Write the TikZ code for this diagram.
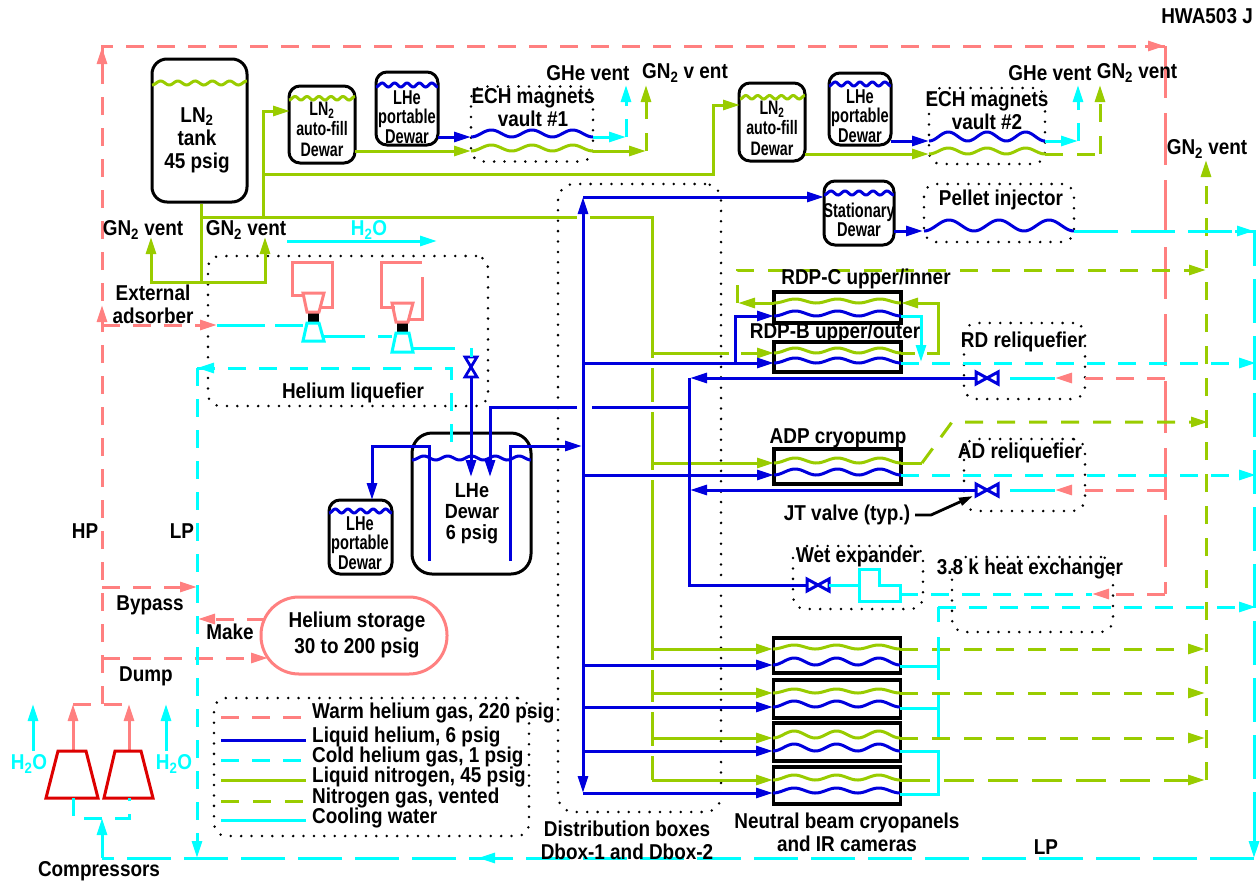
\documentclass[tikz,border=0pt]{standalone}
\usepackage{fontspec}
\setmainfont{Liberation Sans Bold}[FakeStretch=0.88]
\newfontfamily\narrowface{Liberation Sans Bold}[FakeStretch=0.73]
\usetikzlibrary{arrows.meta}
\definecolor{cwarm}{HTML}{FF8080}
\definecolor{clhe}{HTML}{0000DD}
\definecolor{ccold}{HTML}{00FFFF}
\definecolor{cltn}{HTML}{99CC00}
\definecolor{cred}{HTML}{DD0000}
\newcommand{\cdn}[3]{\coordinate (#1) at (#2,#3);}
\newcommand{\wv}[6]{\draw[#1,line width=3pt] plot[domain=0:1,samples=80,smooth] ({#2+\x*(#3-#2)},{#4-#5*(1-cos(360*#6*\x))/2});}
\newcommand{\hval}[2]{\draw[clhe,line width=3pt,line join=miter] (#1-11,#2-6)--(#1+11,#2+6)--(#1+11,#2-6)--(#1-11,#2+6)--cycle;}
\newcommand{\vval}[2]{\draw[clhe,line width=2.8pt,line join=miter] (#1-6,#2-10)--(#1+6,#2+10)--(#1-6,#2+10)--(#1+6,#2-10)--cycle;}
\tikzset{
  pipe/.style={line width=3pt,line join=miter},
  arw/.style={-{Triangle[length=17pt,width=10pt]}},
  warmx/.style={pipe,draw=cwarm,dash pattern=on 18pt off 13pt},
  warmlong/.style={pipe,draw=cwarm,dash pattern=on 52pt off 15pt},
  warmsolid/.style={pipe,draw=cwarm},
  lhe/.style={pipe,draw=clhe},
  cold/.style={pipe,draw=ccold,dash pattern=on 18pt off 13pt},
  coldlong/.style={pipe,draw=ccold,dash pattern=on 44pt off 13pt},
  water/.style={pipe,draw=ccold},
  ltn/.style={pipe,draw=cltn},
  ngas/.style={pipe,draw=cltn,dash pattern=on 18pt off 14pt},
  ngaslong/.style={pipe,draw=cltn,dash pattern=on 30pt off 14pt},
  vessel/.style={draw=black,line width=3pt,inner sep=0pt,rectangle},
  panel/.style={draw=black,line width=3.2pt,inner sep=0pt,rectangle},
  dotbox/.style={draw=black,line width=2.8pt,line cap=round,dash pattern=on 0pt off 10.4pt,rounded corners=12pt,inner sep=0pt,rectangle},
  lbl/.style={inner sep=0pt,align=center,font=\fontsize{21.5}{23}\selectfont},
  nar/.style={inner sep=0pt,align=center,font=\narrowface\fontsize{20}{19.5}\selectfont},
  narfill/.style={inner sep=0pt,align=center,font=\narrowface\fontsize{19.5}{20.5}\selectfont},
  leg/.style={inner sep=0pt,anchor=west,font=\fontsize{21.5}{23}\selectfont},
}
\newcommand{\sbt}{\textsubscript{2}}
\begin{document}
\begin{tikzpicture}[x=1pt,y=-1pt]
\useasboundingbox (0,0) rectangle (1260,884);
% ---------- vessels
\node[vessel,rounded corners=15pt,minimum width=95pt,minimum height=143pt] (tank) at (199.5,130.5) {};
\node[vessel,rounded corners=11pt,minimum width=66pt,minimum height=77pt] (fillA) at (322,124.5) {};
\node[vessel,rounded corners=11pt,minimum width=62pt,minimum height=73pt] (portA) at (407,108.5) {};
\node[vessel,rounded corners=11pt,minimum width=66pt,minimum height=78pt] (fillB) at (772,122) {};
\node[vessel,rounded corners=11pt,minimum width=62pt,minimum height=72pt] (portB) at (860,109) {};
\node[vessel,rounded corners=11pt,minimum width=70pt,minimum height=64pt] (stat) at (859,213) {};
\node[vessel,rounded corners=20pt,minimum width=119pt,minimum height=141pt] (lhed) at (471.5,503.5) {};
\node[vessel,rounded corners=11pt,minimum width=63pt,minimum height=74pt] (portC) at (360.5,537) {};
\node[draw=cwarm,line width=3pt,rounded corners=38pt,rectangle,inner sep=0pt,minimum width=186pt,minimum height=77pt] (store) at (354,635.5) {};
% ---------- panels
\node[panel,minimum width=127pt,minimum height=31pt] (rdpc) at (837.5,307.5) {};
\node[panel,minimum width=127pt,minimum height=30pt] (rdpb) at (837.5,357) {};
\node[panel,minimum width=127pt,minimum height=35pt] (adp) at (837.5,466.5) {};
\node[panel,minimum width=127pt,minimum height=35pt] (nba) at (837,655.5) {};
\node[panel,minimum width=127pt,minimum height=38pt] (nbb) at (837,699) {};
\node[panel,minimum width=127pt,minimum height=38pt] (nbc) at (837,742) {};
\node[panel,minimum width=127pt,minimum height=37pt] (nbd) at (837,785.5) {};
% ---------- dotted enclosures
\node[dotbox,minimum width=122pt,minimum height=75pt] (vaultA) at (532,124) {};
\node[dotbox,minimum width=116pt,minimum height=76pt] (vaultB) at (987,126) {};
\node[dotbox,minimum width=150pt,minimum height=58pt] (pellet) at (999,213) {};
\node[dotbox,rounded corners=16pt,minimum width=163pt,minimum height=628pt] (dbox) at (639.5,498) {};
\node[dotbox,minimum width=280pt,minimum height=150pt] (liq) at (348,331) {};
\node[dotbox,minimum width=121pt,minimum height=76pt] (rdrel) at (1024.5,361) {};
\node[dotbox,minimum width=121pt,minimum height=72pt] (adrel) at (1024.5,475) {};
\node[dotbox,minimum width=130pt,minimum height=63pt] (wet) at (858,577.5) {};
\node[dotbox,minimum width=161pt,minimum height=75pt] (hx) at (1032.5,594.5) {};
\node[dotbox,minimum width=315pt,minimum height=138pt] (legend) at (371.5,767) {};
% ---------- level waves
\wv{cltn}{152}{247}{85}{4}{5.5}
\wv{cltn}{289}{355}{100}{3.5}{5.5}
\wv{clhe}{376}{438}{87}{4}{5}
\wv{cltn}{740}{805}{99}{3.5}{5.5}
\wv{clhe}{829}{891}{86}{4}{5}
\wv{clhe}{824}{894}{195}{4}{5}
\wv{clhe}{412}{531}{460}{4}{5}
\wv{clhe}{329}{392}{513}{4}{5}
% ---------- process waves
\wv{clhe}{471}{593}{137}{7}{3}
\wv{cltn}{471}{593}{151}{6}{3}
\wv{clhe}{929}{1045}{141}{9}{3}
\wv{cltn}{929}{1045}{154}{6}{3}
\wv{clhe}{924}{1074}{231}{11}{3}
\wv{cltn}{774}{901}{303}{4}{3}
\wv{clhe}{774}{901}{316}{5}{3}
\wv{cltn}{774}{901}{353}{5}{3}
\wv{clhe}{774}{901}{363}{5}{3}
\wv{cltn}{774}{901}{463}{5}{3}
\wv{clhe}{774}{901}{475}{6}{3}
\wv{cltn}{773}{900}{649}{4}{3}
\wv{clhe}{773}{900}{665}{7}{3}
\wv{cltn}{773}{900}{693}{4}{3}
\wv{clhe}{773}{900}{707}{6}{3}
\wv{cltn}{773}{900}{738}{7}{3}
\wv{clhe}{773}{900}{751}{7}{3}
\wv{cltn}{773}{900}{780}{5}{3}
\wv{clhe}{773}{900}{793}{5}{3}
% ---------- coordinates
\cdn{hpt}{102}{46}\cdn{hptr}{1165}{46}\cdn{hptm}{102}{305}\cdn{ads}{102}{325}\cdn{adsb}{217}{325}
\cdn{hpar}{102}{47}\cdn{topar}{1165}{46}\cdn{rdp}{1165}{378}\cdn{adp2}{1165}{490}\cdn{hxp}{1165}{594}
\cdn{rdt}{1055}{378}\cdn{adt}{1055}{490}\cdn{hxt}{1092}{594}
\cdn{byA}{102}{587}\cdn{byB}{197}{587}\cdn{dmA}{102}{658}\cdn{dmB}{268}{658}\cdn{mkA}{265}{619}\cdn{mkB}{198}{619}
\cdn{cA}{73}{704}\cdn{cB}{129}{704}\cdn{cAb}{73}{751}\cdn{cBb}{129}{751}\cdn{hpc}{73}{704}\cdn{hpd}{129}{704}\cdn{hpe}{102}{704}
% ---------- warm helium
\draw[warmx] (hpe)--(hpt)--(hptr);
\draw[warmx] (hpc)--(hpd);
\draw[warmsolid,arw] (ads)--(hptm);
\draw[warmsolid,arw] (102,66)--(hpar);
\draw[warmsolid,arw] (1145,46)--(topar);
\draw[warmx,arw] (ads)--(adsb);
\draw[warmx,arw] (byA)--(byB);
\draw[warmx,arw] (dmA)--(dmB);
\draw[warmx,arw] (mkA)--(mkB);
\draw[warmsolid,arw] (cAb)--(cA);
\draw[warmsolid,arw] (cBb)--(cB);
\draw[warmlong] (topar)--(hxp);
\draw[warmx,arw] (rdp)--(rdt);
\draw[warmx,arw] (adp2)--(adt);
\draw[warmx,arw] (hxp)--(hxt);
% ---------- compressors
\draw[cred,line width=3pt] (58,751)--(86,751)--(98,798)--(46,798)--cycle;
\draw[cred,line width=3pt] (115,751)--(141,751)--(153,798)--(104,798)--cycle;
\draw[cold] (73,798)--(73,818)--(129,818)--(129,798);
\draw[water,arw] (33,751)--(33,704);
\draw[water,arw] (166,751)--(166,704);
\draw[coldlong] (1254,858)--(102,858);
\draw[water,arw] (102,858)--(102,818);
\draw[water,arw] (500,858)--(478,858);
% ---------- nitrogen
\cdn{tk1}{201}{282}\cdn{tkl}{151}{282}\cdn{tkr}{265}{282}\cdn{tkvl}{151}{237}\cdn{tkvr}{265}{237}
\cdn{nj}{201}{217}\cdn{nja}{263}{217}\cdn{njb}{263}{174}\cdn{nf}{263}{111}\cdn{nfb}{290}{111}\cdn{nc}{713}{174}\cdn{nd}{713}{105}\cdn{ne}{740}{105}
\draw[ltn] (tank.south -| tk1)--(tk1);
\draw[ltn,arw] (tk1)--(tkl)--(tkvl);
\draw[ltn,arw] (tk1)--(tkr)--(tkvr);
\draw[ltn,arw] (nja)--(nf)--(nfb);
\draw[ltn,arw] (njb)--(nc)--(nd)--(ne);
\draw[ltn] (nj)--(577,217);
\draw[ltn] (590,217)--(652,217)--(652,358) (652,368)--(652,402) (652,412)--(652,470) (652,480)--(652,660) (652,670)--(652,702) (652,712)--(652,746) (652,756)--(652,780);
\draw[ltn,arw] (355,151)--(471,151);
\draw[ltn,arw] (593,151)--(646,151);
\draw[ngas,arw] (646,151)--(646,85);
\draw[ltn,arw] (805,154)--(929,154);
\draw[ngas] (1045,154)--(1100,154);
\draw[ngas,arw] (1100,154)--(1100,85);
\draw[ltn] (652,353)--(729,353);
\draw[ltn,arw] (741,353)--(774,353);
\draw[ltn,arw] (652,463)--(774,463);
\draw[ltn,arw] (652,649)--(773,649);
\draw[ltn,arw] (652,693)--(773,693);
\draw[ltn,arw] (652,738)--(773,738);
\draw[ltn,arw] (652,780)--(773,780);
\draw[ltn] (901,353)--(915,353);
\draw[ltn,arw] (927,353)--(938,353)--(938,303)--(901,303);
\draw[ltn,arw] (774,303)--(738,303);
\draw[ngas,arw] (737,303)--(737,270)--(1206,270);
\draw[ltn] (901,463)--(922,463);
\draw[ngas,arw] (922,463)--(952,422)--(1208,422);
\draw[ngas] (1206,780)--(1206,300);
\draw[ngas,arw] (1206,300)--(1206,160);
\draw[ngas,arw] (900,649)--(1205,649);
\draw[ngas,arw] (900,693)--(1205,693);
\draw[ngas,arw] (900,738)--(1205,738);
\draw[ngaslong,arw] (900,780)--(1205,780);
% ---------- liquid helium
\draw[lhe,arw] (438,137)--(471,137);
\draw[lhe,arw] (891,141)--(929,141);
\draw[lhe,arw] (894,231)--(923,231);
\draw[lhe,arw] (583,197)--(824,197);
\draw[lhe,{Triangle[length=17pt,width=10pt]}-{Triangle[length=17pt,width=10pt]}] (583,197)--(583,793);
\draw[lhe,arw] (583,363)--(774,363);
\draw[lhe,arw] (735,363)--(735,316)--(774,316);
\draw[lhe,arw] (583,475)--(774,475);
\draw[lhe,arw] (583,665)--(773,665);
\draw[lhe,arw] (583,707)--(773,707);
\draw[lhe,arw] (583,751)--(773,751);
\draw[lhe,arw] (583,793)--(773,793);
\draw[lhe,arw] (976,378)--(690,378);
\draw[lhe,arw] (976,490)--(690,490);
\draw[lhe] (689,378)--(689,585)--(807,585);
\draw[lhe,arw] (471,377)--(471,477);
\draw[lhe] (592,407)--(689,407);
\draw[lhe,arw] (577,407)--(490,407)--(490,477);
\draw[lhe,arw] (429,561)--(429,446)--(372,446)--(372,500);
\draw[lhe,arw] (510,561)--(510,446)--(582,446);
\hval{987}{378}\hval{987}{490}\hval{818}{585}\vval{471}{367}
% ---------- cold helium
\draw[cold] (197,368)--(451,368)--(451,447);
\draw[cold] (197,368)--(197,858);
\draw[water,arw] (215,368)--(197,368);
\draw[water,arw] (197,835)--(197,858);
\draw[water,arw] (593,137)--(626,137);
\draw[cold,arw] (626,137)--(626,85);
\draw[water,arw] (1045,141)--(1078,141);
\draw[cold,arw] (1078,141)--(1078,85);
\draw[coldlong] (1074,231)--(1254,231)--(1254,840);
\draw[water,arw] (1235,231)--(1254,231);
\draw[water,arw] (1254,835)--(1254,858);
\draw[water,arw] (901,316)--(921,316)--(921,362);
\draw[cold,arw] (901,363)--(1256,363);
\draw[cold,arw] (901,475)--(1256,475);
\draw[water] (1010,378)--(1055,378);
\draw[water] (1010,490)--(1055,490);
\draw[water] (829,585)--(859,585);
\draw[water] (859,585)--(859,569)--(879,569)--(879,585)--(900,585)--(900,601)--(859,601)--cycle;
\draw[cold] (900,594)--(1092,594);
\draw[cold,arw] (938,607)--(1256,607);
\draw[water] (938,607)--(938,622) (938,637)--(938,680) (938,695)--(938,737);
\draw[water] (900,666)--(938,666);
\draw[water] (900,708)--(938,708);
\draw[water] (900,751)--(938,751)--(938,794)--(900,794);
% ---------- liquefier turbines
\draw[water] (217,325)--(265,325) (275,325)--(303,325);
\draw[fill=black,draw=black] (308,312) rectangle (318,323);
\draw[fill=black,draw=black] (397,322) rectangle (407,333);
\draw[water] (307,323)--(319,323)--(324,341)--(303,341)--cycle;
\draw[water] (396,333)--(409,333)--(413,352)--(392,352)--cycle;
\draw[warmsolid] (303,293)--(324,293)--(319,312)--(307,312)--cycle;
\draw[warmsolid] (392,303)--(413,303)--(408,322)--(396,322)--cycle;
\draw[warmsolid] (303,295)--(292,295)--(292,262)--(332,262)--(332,307)--(320,307);
\draw[warmsolid] (395,307)--(381,307)--(381,262)--(422,262);
\draw[warmsolid] (422,277)--(422,319)--(409,319);
\draw[water] (322,336)--(365,336) (378,336)--(392,336);
\draw[water] (413,348)--(455,348);
\draw[water] (471,348)--(471,357);
\draw[water,arw] (287,241)--(437,241);
% ---------- legend lines
\draw[warmx] (221,717)--(306,717);
\draw[lhe] (221,740)--(306,740);
\draw[cold] (221,760)--(306,760);
\draw[ltn] (221,780)--(306,780);
\draw[ngas] (221,801)--(306,801);
\draw[water] (221,820)--(306,820);
% ---------- JT pointer
\draw[black,line width=2.8pt,-{Triangle[length=14pt,width=8pt]}] (915,515)--(931,515)--(973,496);
% ---------- labels
\node[lbl] (ltank) at (197,140) {LN\sbt\\tank\\45 psig};
\node[narfill] (lfillA) at (322,129) {LN\sbt\\auto-fill\\Dewar};
\node[nar] (lportA) at (407,117) {LHe\\portable\\Dewar};
\node[narfill] (lfillB) at (772,128) {LN\sbt\\auto-fill\\Dewar};
\node[nar] (lportB) at (860,116) {LHe\\portable\\Dewar};
\node[nar] (lstat) at (859,220) {Stationary\\Dewar};
\node[nar] (lportC) at (360,543) {LHe\\portable\\Dewar};
\node[lbl,font=\fontsize{20.5}{21}\selectfont] (llhe) at (472,514) {LHe\\Dewar\\6 psig};
\node[lbl] (lva) at (533,108) {ECH magnets\\vault \#1};
\node[lbl] (lvb) at (987,111) {ECH magnets\\vault \#2};
\node[lbl] (lg1) at (588,73) {GHe vent};
\node[lbl] (lg2) at (685,73) {GN\sbt{} v ent};
\node[lbl] (lg3) at (1050,73) {GHe vent};
\node[lbl] (lg4) at (1137,73) {GN\sbt{} vent};
\node[lbl] (lg5) at (1207,149) {GN\sbt{} vent};
\node[lbl] (lg6) at (143,230) {GN\sbt{} vent};
\node[lbl] (lg7) at (246,230) {GN\sbt{} vent};
\node[lbl,text=ccold] (lh1) at (369,230) {H\sbt O};
\node[lbl,text=ccold] (lh2) at (29,764) {H\sbt O};
\node[lbl,text=ccold] (lh3) at (174,764) {H\sbt O};
\node[lbl] (lads) at (153,304) {External\\adsorber};
\node[lbl] (lliq) at (353,393) {Helium liquefier};
\node[lbl] (lhp) at (85,531) {HP};
\node[lbl] (llp) at (182,531) {LP};
\node[lbl] (llp2) at (1046,847) {LP};
\node[lbl] (lby) at (150,605) {Bypass};
\node[lbl] (lmk) at (230,632) {Make};
\node[lbl] (ldm) at (146,676) {Dump};
\node[lbl,font=\fontsize{21.5}{26}\selectfont] (lst) at (357,635) {Helium storage\\30 to 200 psig};
\node[lbl] (lpel) at (1001,200) {Pellet injector};
\node[lbl] (lrc) at (866,279) {RDP-C upper/inner};
\node[lbl] (lrb) at (835,333) {RDP-B upper/outer};
\node[lbl] (lrd) at (1023,342) {RD reliquefier};
\node[lbl] (lad) at (838,438) {ADP cryopump};
\node[lbl] (lar) at (1020,453) {AD reliquefier};
\node[lbl] (ljt) at (847,515) {JT valve (typ.)};
\node[lbl] (lwet) at (858,557) {Wet expander};
\node[lbl] (lhx) at (1030,569) {3.8 k heat exchanger};
\node[lbl] (lnb) at (847,832) {Neutral beam cryopanels\\and IR cameras};
\node[lbl] (ldb) at (627,840) {Distribution boxes\\Dbox-1 and Dbox-2};
\node[lbl] (lcmp) at (99,871) {Compressors};
\node[lbl,anchor=east] (lid) at (1253,16) {HWA503 J};
\node[leg] (l1) at (312,713) {Warm helium gas, 220 psig};
\node[leg] (l2) at (312,737) {Liquid helium, 6 psig};
\node[leg] (l3) at (312,757) {Cold helium gas, 1 psig};
\node[leg] (l4) at (312,777) {Liquid nitrogen, 45 psig};
\node[leg] (l5) at (312,798) {Nitrogen gas, vented};
\node[leg] (l6) at (312,818) {Cooling water};
\end{tikzpicture}
\end{document}
